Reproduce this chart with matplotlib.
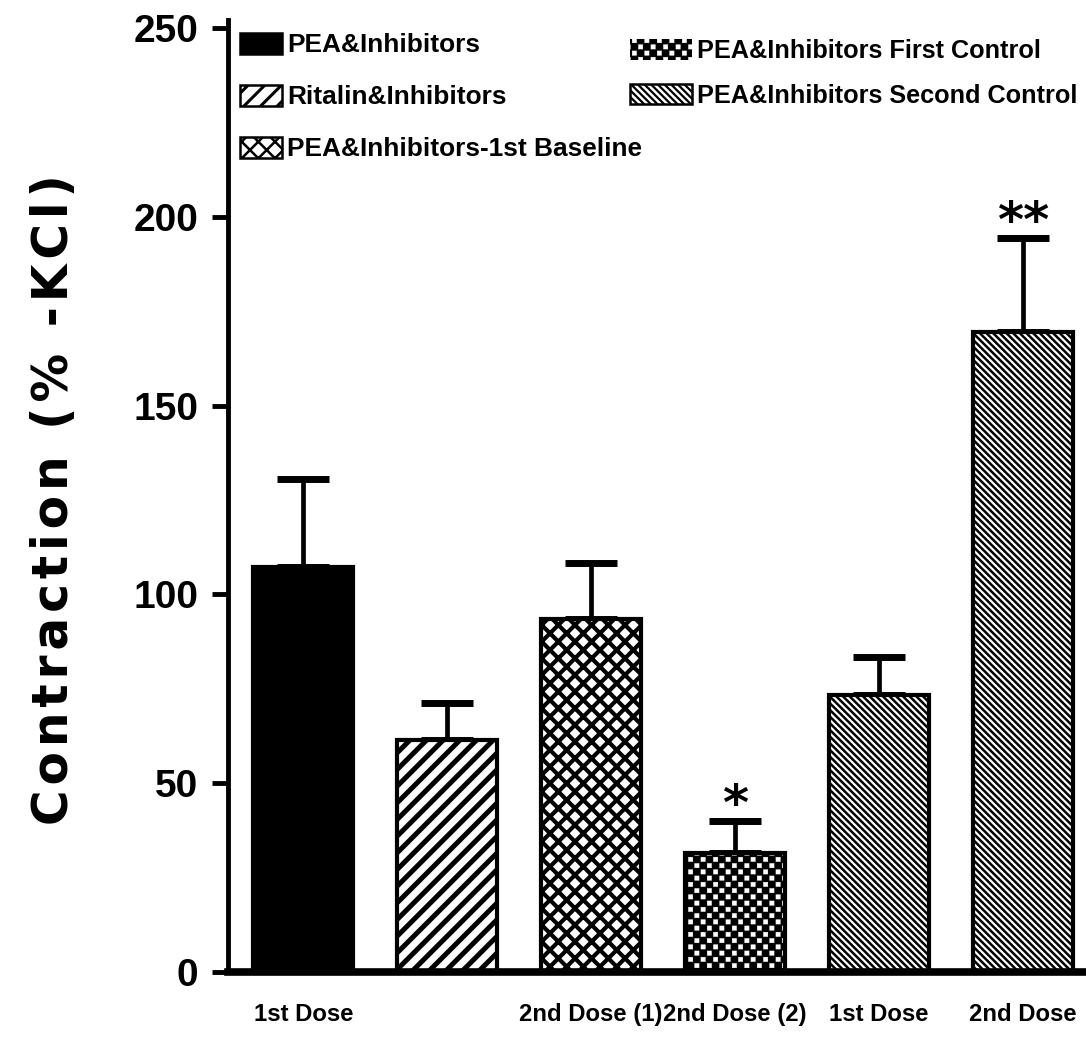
import numpy as np
import matplotlib
matplotlib.use("Agg")
import matplotlib.pyplot as plt
import matplotlib.hatch as mhatch
from matplotlib.path import Path
from matplotlib.patches import Patch
from matplotlib import font_manager as fm

# ---- data -------------------------------------------------------------
dose_labels = ["1st Dose", "", "2nd Dose (1)", "2nd Dose (2)", "1st Dose", "2nd Dose"]
groups = ["PEA&Inhibitors", "Ritalin&Inhibitors", "PEA&Inhibitors-1st Baseline",
          "PEA&Inhibitors First Control", "PEA&Inhibitors Second Control",
          "PEA&Inhibitors Second Control"]
means = [107.3, 61.4, 93.5, 31.5, 73.4, 169.5]
sem = [23.3, 9.8, 14.8, 8.5, 10.0, 24.9]
signif = ["", "", "", "*", "", "**"]
y_ticks = [0, 50, 100, 150, 200, 250]

# ---- fonts ------------------------------------------------------------
installed = {f.name for f in fm.fontManager.ttflist}
NARROW = "Liberation Sans Narrow" if "Liberation Sans Narrow" in installed else "Liberation Sans"
narrow_scale = 1.0 if NARROW == "Liberation Sans Narrow" else 0.82

# ---- checkerboard hatch ('O') ----------------------------------------
PER_PATCH_HATCH_LW = hasattr(Patch, "set_hatch_linewidth")
GLOBAL_HATCH_LW = 2.4


class CheckerHatch(mhatch.HatchPatternBase):
    """Checkerboard of filled squares, selected with 'O' in a hatch string."""
    cells = 16
    fill = 0.55

    def __init__(self, hatch, density):
        n = hatch.count("O")
        self.n = self.cells * n if n else 0
        self.num_vertices = (self.n * self.n // 2) * 5

    def set_vertices_and_codes(self, vertices, codes):
        c = 1.0 / self.n
        s = c * self.fill
        sq = np.array([[0, 0], [s, 0], [s, s], [0, s], [0, 0]], dtype=float)
        parts = [sq + [i * c + (c - s) / 2, j * c + (c - s) / 2]
                 for i in range(self.n) for j in range(self.n) if (i + j) % 2 == 0]
        vertices[:] = np.concatenate(parts)
        codes[:] = np.tile([Path.MOVETO, Path.LINETO, Path.LINETO,
                            Path.LINETO, Path.CLOSEPOLY], len(parts))


if PER_PATCH_HATCH_LW:
    CheckerHatch.fill = 0.7
else:
    plt.rcParams["hatch.linewidth"] = GLOBAL_HATCH_LW
    CheckerHatch.fill = max(0.08, (4.6 - GLOBAL_HATCH_LW * 100 / 72) / 6.25)

mhatch._hatch_types = [t for t in mhatch._hatch_types
                       if t is not mhatch.LargeCircles] + [CheckerHatch]

# face colour, hatch colour, hatch pattern, hatch line widths (bar / legend)
styles = {
    "PEA&Inhibitors": dict(face="black", hcol="black", hatch=None, hlw=1.0, llw=1.0),
    "Ritalin&Inhibitors": dict(face="white", hcol="black", hatch="//", hlw=3.6, llw=2.2),
    "PEA&Inhibitors-1st Baseline": dict(face="white", hcol="black", hatch="xx", hlw=3.0, llw=1.8),
    "PEA&Inhibitors First Control": dict(face="black", hcol="white", hatch="O", hlw=0.3, llw=0.3),
    "PEA&Inhibitors Second Control": dict(face="white", hcol="black", hatch="\\" * 5, hlw=1.8, llw=1.6),
}

# ---- figure -----------------------------------------------------------
fig = plt.figure(figsize=(10.86, 10.40), dpi=100)
ax = fig.add_axes([228 / 1086, 68 / 1040, 858 / 1086, 944 / 1040])

x = np.arange(len(means))
width = 0.694
for i in x:
    st = styles[groups[i]]
    fill = ax.bar(x[i], means[i], width=width, color=st["face"],
                  edgecolor=st["hcol"], linewidth=0, hatch=st["hatch"], zorder=2)
    if PER_PATCH_HATCH_LW:
        for p in fill:
            p.set_hatch_linewidth(st["hlw"])
    ax.bar(x[i], means[i], width=width, fill=False, edgecolor="black",
           linewidth=3, zorder=3)

ax.errorbar(x, means, yerr=[np.zeros(len(sem)), sem], fmt="none", ecolor="black",
            elinewidth=3.4, capsize=18.5, capthick=5, zorder=1)

for xi, m, e, s in zip(x, means, sem, signif):
    if s:
        ax.annotate(s, xy=(xi, m + e), xytext=(0, 1), textcoords="offset points",
                    ha="center", va="baseline", fontsize=36, fontweight="bold",
                    fontfamily="DejaVu Sans")

# ---- axes styling -----------------------------------------------------
ax.set_xlim(-0.524, 5.438)
ax.set_ylim(0, 250)
for side in ("top", "right"):
    ax.spines[side].set_visible(False)
ax.spines["left"].set_linewidth(3.5)
ax.spines["bottom"].set_linewidth(5.5)
ax.spines["left"].set_bounds(0, 252)

ax.set_yticks(y_ticks)
ax.set_yticklabels([str(v) for v in y_ticks], fontfamily="Liberation Sans",
                   fontweight="bold", fontsize=28)
ax.tick_params(axis="y", direction="out", length=11.5, width=3.5, pad=10)

ax.set_xticks(x)
ax.set_xticklabels(dose_labels, fontfamily=NARROW, fontweight="bold",
                   fontsize=21 * narrow_scale)
ax.tick_params(axis="x", length=0, pad=22)

ylabel = "\u200a".join("Contraction (% -KCl)")
ax.set_ylabel(ylabel, fontfamily="DejaVu Sans", fontweight="bold", fontsize=35,
              va="center")
ax.yaxis.set_label_coords(-0.203, 0.5)

# ---- legends ----------------------------------------------------------
def handle(name):
    st = styles[name]
    if st["hcol"] == "white":
        return Patch(facecolor=st["face"], edgecolor="white", linewidth=0, hatch=st["hatch"])
    return Patch(facecolor=st["face"], edgecolor="black", linewidth=1.8, hatch=st["hatch"])


def thicken(leg, names):
    if PER_PATCH_HATCH_LW:
        for h, n in zip(leg.legend_handles, names):
            h.set_hatch_linewidth(styles[n]["llw"])


left_font = dict(family=NARROW, weight="bold", size=23 * narrow_scale)
right_font = dict(family=NARROW, weight="bold", size=22.2 * narrow_scale)
left_names = groups[:3]
right_names = [groups[3], groups[4]]

leg1 = ax.legend([handle(n) for n in left_names], left_names, loc="upper left",
                 bbox_to_anchor=(0.014, 0.995), frameon=False, prop=left_font,
                 handlelength=1.6, handleheight=0.85, handletextpad=0.2,
                 labelspacing=1.05, borderpad=0, borderaxespad=0)
thicken(leg1, left_names)
ax.add_artist(leg1)
leg2 = ax.legend([handle(n) for n in right_names], right_names, loc="upper left",
                 bbox_to_anchor=(0.4685, 0.988), frameon=False, prop=right_font,
                 handlelength=2.45, handleheight=0.88, handletextpad=0.2,
                 labelspacing=0.8, borderpad=0, borderaxespad=0)
thicken(leg2, right_names)

fig.savefig("out.png", dpi=100)
